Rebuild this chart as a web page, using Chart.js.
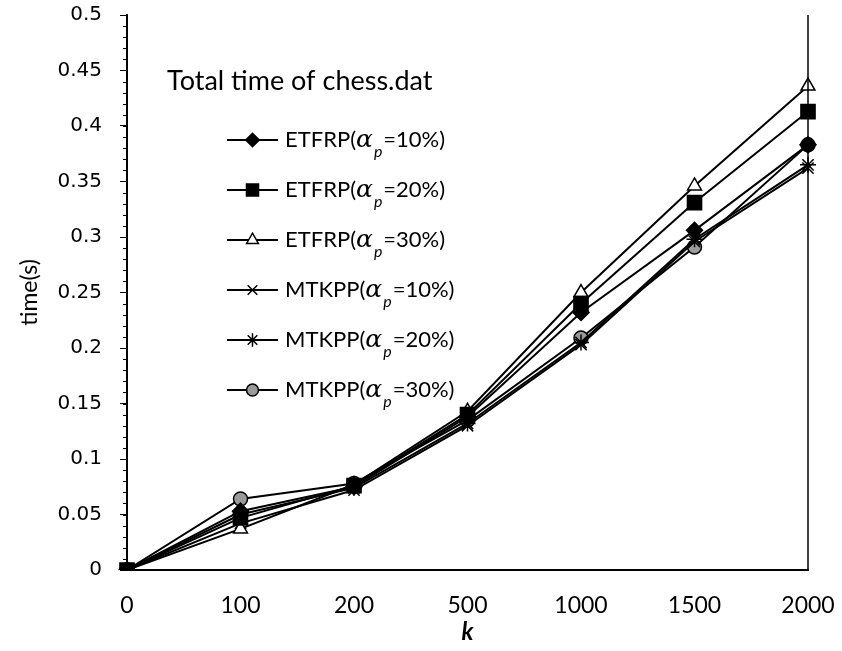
<!DOCTYPE html>
<html>
<head>
<meta charset="utf-8">
<title>Total time of chess.dat</title>
<script src="https://cdn.jsdelivr.net/npm/chart.js@4.4.1/dist/chart.umd.min.js"></script>
<style>
  html, body { margin: 0; padding: 0; background: #fff; }
  #wrap { width: 842px; height: 651px; position: relative; }
</style>
</head>
<body>
<div id="wrap"><canvas id="myChart"></canvas></div>
<script>
// k values on the x axis
const kLabels = ['0', '100', '200', '500', '1000', '1500', '2000'];

// time(s) per series
const etfrp10 = [0, 0.053, 0.075, 0.138, 0.232, 0.306, 0.383];
const etfrp20 = [0, 0.047, 0.076, 0.140, 0.240, 0.331, 0.413];
const etfrp30 = [0, 0.037, 0.077, 0.143, 0.250, 0.346, 0.436];
const mtkpp10 = [0, 0.042, 0.072, 0.130, 0.203, 0.296, 0.362];
const mtkpp20 = [0, 0.050, 0.074, 0.132, 0.205, 0.298, 0.365];
const mtkpp30 = [0, 0.064, 0.078, 0.135, 0.209, 0.291, 0.383];

// legend text pieces: METHOD(α_p=xx%)
const methodNames = ['ETFRP', 'ETFRP', 'ETFRP', 'MTKPP', 'MTKPP', 'MTKPP'];
const alphaValues = ['10%', '20%', '30%', '10%', '20%', '30%'];

const chartTitle = 'Total time of chess.dat';

function series(data, i, style, fill, radius) {
  return {
    label: methodNames[i] + '(\u03b1p=' + alphaValues[i] + ')',
    data: data,
    borderColor: '#000',
    borderWidth: 2,
    backgroundColor: fill,
    pointStyle: style,
    pointRadius: radius,
    pointBorderColor: '#000',
    pointBackgroundColor: fill,
    pointBorderWidth: 1.5,
    tension: 0
  };
}

// draws the in-plot title + legend (with the α_p subscript), minor y ticks and right frame line
const legendPlugin = {
  id: 'insideLegend',
  afterDraw(chart) {
    const ctx = chart.ctx;
    const y = chart.scales.y;
    const area = chart.chartArea;
    ctx.save();

    // right frame line
    ctx.strokeStyle = '#000';
    ctx.lineWidth = 1.5;
    ctx.beginPath();
    ctx.moveTo(area.right, area.top);
    ctx.lineTo(area.right, area.bottom);
    ctx.stroke();

    // minor ticks on y axis
    ctx.lineWidth = 1;
    for (let v = 0; v <= 0.5 + 1e-9; v += 0.01) {
      const py = Math.round(y.getPixelForValue(v)) + 0.5;
      ctx.beginPath();
      ctx.moveTo(y.right - 4, py);
      ctx.lineTo(y.right, py);
      ctx.stroke();
    }

    ctx.fillStyle = '#000';
    ctx.textBaseline = 'middle';
    ctx.font = '27px Lato';
    ctx.fillText(chartTitle, 167, 81);

    const x0 = 227, x1 = 278, top = 140, step = 50;
    chart.data.datasets.forEach((ds, i) => {
      const ly = top + i * step;
      ctx.strokeStyle = '#000';
      ctx.lineWidth = 2;
      ctx.beginPath();
      ctx.moveTo(x0, ly);
      ctx.lineTo(x1, ly);
      ctx.stroke();
      ctx.fillStyle = ds.pointBackgroundColor;
      ctx.lineWidth = 1.5;
      Chart.helpers.drawPoint(ctx, {
        pointStyle: ds.pointStyle,
        radius: ds.pointRadius * 0.85,
        rotation: 0,
        borderWidth: 1.5
      }, (x0 + x1) / 2, ly);

      ctx.fillStyle = '#000';
      let tx = 285;
      ctx.font = '22px Lato';
      const head = methodNames[i] + '(';
      ctx.fillText(head, tx, ly);
      tx += ctx.measureText(head).width;
      ctx.font = 'italic 25px "DejaVu Serif"';
      ctx.fillText('\u03b1', tx, ly);
      tx += ctx.measureText('\u03b1').width + 1;
      ctx.font = 'italic 16px Lato';
      ctx.fillText('p', tx, ly + 12);
      tx += ctx.measureText('p').width + 1;
      ctx.font = '22px Lato';
      ctx.fillText('=' + alphaValues[i] + ')', tx, ly);
    });
    ctx.restore();
  }
};

const ctx = document.getElementById('myChart').getContext('2d');
const chart = new Chart(ctx, {
  type: 'line',
  data: {
    labels: kLabels,
    datasets: [
      series(etfrp10, 0, 'rectRot', '#000', 8),
      series(etfrp20, 1, 'rect', '#000', 10),
      series(etfrp30, 2, 'triangle', '#fff', 8),
      series(mtkpp10, 3, 'crossRot', '#000', 8),
      series(mtkpp20, 4, 'star', '#000', 8),
      series(mtkpp30, 5, 'circle', '#9a9a9a', 7)
    ]
  },
  options: {
    responsive: true,
    maintainAspectRatio: false,
    animation: false,
    layout: { padding: { top: 15, right: 34, bottom: 0, left: 0 } },
    plugins: {
      legend: { display: false },
      tooltip: { enabled: false },
      title: { display: false }
    },
    scales: {
      x: {
        offset: false,
        grid: { display: false, drawTicks: false },
        border: { display: true, color: '#000', width: 2 },
        ticks: {
          color: '#000',
          font: { family: 'Lato', size: 23 },
          padding: 22,
          maxRotation: 0
        },
        title: {
          display: true,
          text: 'k',
          color: '#000',
          font: { family: 'Lato', size: 24, style: 'italic', weight: 'bold' },
          padding: { top: 4, bottom: 4 }
        },
        afterFit(scale) {
          scale.height = 81;
          scale.paddingLeft = 0;
          scale.paddingRight = 0;
        }
      },
      y: {
        min: 0,
        max: 0.5,
        ticks: {
          stepSize: 0.05,
          color: '#000',
          font: { family: 'DejaVu Sans', size: 20 },
          padding: 18,
          callback: (v) => String(Math.round(v * 100) / 100)
        },
        grid: { drawOnChartArea: false, drawTicks: true, tickLength: 7, color: '#000' },
        border: { display: true, color: '#000', width: 2 },
        title: {
          display: true,
          text: 'time(s)',
          color: '#000',
          font: { family: 'Lato', size: 23 },
          padding: { top: 16, bottom: 0 }
        },
        afterFit(scale) {
          scale.width = 127;
          scale.paddingTop = 0;
          scale.paddingBottom = 0;
        }
      }
    }
  },
  plugins: [legendPlugin]
});
</script>
</body>
</html>
